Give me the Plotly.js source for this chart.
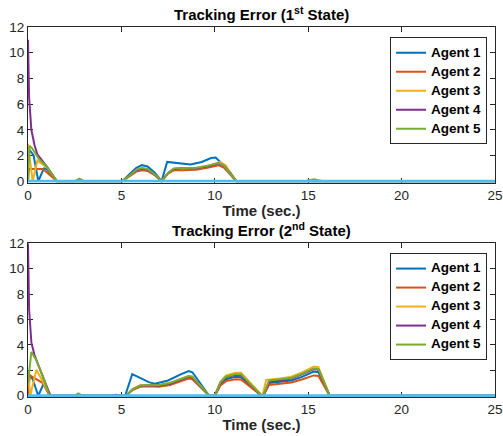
<!DOCTYPE html>
<html>
<head>
<meta charset="utf-8">
<script src="https://cdn.plot.ly/plotly-3.0.1.min.js"></script>
<style>html,body{margin:0;padding:0;background:#fff;}#chart{width:503px;height:436px;}</style>
</head>
<body>
<div id="chart"></div>
<script>
// ---------- data ----------
const agentNames = ['Agent 1', 'Agent 2', 'Agent 3', 'Agent 4', 'Agent 5'];
const xTicks = [0, 5, 10, 15, 20, 25];
const yTicks = [0, 2, 4, 6, 8, 10, 12];
const titleTop = 'Tracking Error (1<sup>st</sup> State)';
const titleBottom = 'Tracking Error (2<sup>nd</sup> State)';
const xLabel = 'Time (sec.)';

// 1st state
const t1_a1 = [0, 0.05, 0.3, 0.55, 0.85, 1.0, 1.55, 5.05, 5.5, 5.8, 6.1, 6.4, 6.8, 7.15, 7.45, 7.8, 8.3, 8.7, 9.3, 9.8, 10.05, 10.4, 10.8, 11.15, 25];
const y1_a1 = [2.4, 2.5, 2.0, 0, 1.0, 0.95, 0, 0, 0.65, 1.05, 1.25, 1.15, 0.65, 0, 1.5, 1.45, 1.35, 1.3, 1.5, 1.8, 1.85, 1.35, 0.75, 0, 0];
const t1_a2 = [0, 0.05, 0.8, 1.55, 2.5, 2.75, 3.0, 5.05, 5.5, 5.8, 6.1, 6.4, 6.8, 7.15, 7.5, 7.8, 8.3, 9.0, 9.6, 10.2, 10.5, 10.8, 11.15, 25];
const y1_a2 = [0, 0.95, 0.95, 0, 0, 0.12, 0, 0, 0.45, 0.75, 0.85, 0.8, 0.45, 0, 0.6, 0.85, 0.85, 0.9, 1.05, 1.25, 1.05, 0.6, 0, 0];
const t1_a3 = [0, 0.25, 0.5, 1.0, 1.55, 5.05, 5.5, 5.8, 6.1, 6.4, 6.8, 7.15, 7.5, 7.8, 8.3, 9.0, 9.6, 10.3, 10.6, 10.85, 11.15, 25];
const y1_a3 = [2.9, 0, 1.6, 1.1, 0, 0, 0.5, 0.85, 0.95, 0.9, 0.5, 0, 0.65, 0.95, 1.0, 1.0, 1.15, 1.5, 1.2, 0.6, 0, 0];
const t1_a4 = [0, 0.06, 0.18, 0.35, 0.5, 1.0, 1.55, 3.3, 3.6, 3.9, 5.05, 5.5, 5.8, 6.1, 6.4, 6.8, 7.15, 7.5, 7.8, 8.3, 9.0, 9.6, 10.2, 10.5, 10.8, 11.15, 25];
const y1_a4 = [11, 6.5, 4.0, 2.8, 2.1, 1.15, 0, 0, 0.05, 0, 0, 0.5, 0.85, 0.95, 0.9, 0.5, 0, 0.65, 0.95, 1.0, 1.0, 1.15, 1.4, 1.2, 0.65, 0, 0];
const t1_a5 = [0, 0.08, 0.2, 0.6, 1.0, 1.55, 2.5, 2.75, 3.0, 5.05, 5.5, 5.8, 6.1, 6.4, 6.8, 7.15, 7.5, 7.8, 8.3, 9.0, 9.6, 10.2, 10.5, 10.8, 11.15, 14.8, 15.3, 15.8, 25];
const y1_a5 = [0, 2.75, 2.6, 1.7, 1.15, 0, 0, 0.2, 0, 0, 0.5, 0.9, 1.02, 0.95, 0.52, 0, 0.65, 1.0, 1.02, 1.05, 1.2, 1.42, 1.2, 0.65, 0, 0, 0.15, 0, 0];

// 2nd state
const t2_a1 = [0, 0.05, 0.25, 0.55, 0.85, 1.2, 5.2, 5.58, 6.0, 6.5, 6.8, 7.5, 8.2, 8.6, 8.8, 9.7, 10.0, 10.3, 10.6, 11.1, 11.4, 12.5, 12.6, 12.9, 13.5, 14.1, 14.7, 15.3, 15.55, 16.15, 25];
const y2_a1 = [1.0, 1.7, 1.3, 0, 1.0, 0, 0, 1.7, 1.4, 1.05, 0.95, 1.2, 1.7, 1.95, 1.85, 0, 0, 0.9, 1.3, 1.5, 1.45, 0, 0, 1.0, 1.1, 1.2, 1.5, 1.9, 1.85, 0, 0];
const t2_a2 = [0, 0.1, 0.8, 1.15, 2.5, 2.7, 2.9, 5.25, 5.6, 6.0, 6.5, 7.0, 7.6, 8.2, 8.6, 8.8, 9.7, 10.0, 10.3, 10.6, 11.1, 11.4, 12.5, 12.6, 12.9, 13.5, 14.1, 14.7, 15.3, 15.55, 16.15, 25];
const y2_a2 = [0, 1.6, 1.0, 0, 0, 0.15, 0, 0, 0.45, 0.7, 0.75, 0.7, 0.85, 1.15, 1.35, 1.3, 0, 0, 0.8, 1.15, 1.3, 1.28, 0, 0, 0.85, 0.95, 1.05, 1.3, 1.6, 1.55, 0, 0];
const t2_a3 = [0, 0.12, 0.45, 1.2, 5.25, 5.6, 6.0, 6.5, 7.0, 7.6, 8.2, 8.6, 8.8, 9.7, 10.0, 10.3, 10.6, 11.1, 11.4, 12.5, 12.55, 12.75, 13.5, 14.1, 14.7, 15.3, 15.55, 16.15, 25];
const y2_a3 = [1.9, 0, 2.05, 0, 0, 0.5, 0.8, 0.85, 0.85, 1.0, 1.35, 1.55, 1.5, 0, 0, 1.1, 1.6, 1.8, 1.8, 0, 0, 1.25, 1.35, 1.5, 1.85, 2.3, 2.25, 0, 0];
const t2_a4 = [0, 0.06, 0.18, 0.35, 0.5, 0.8, 1.2, 4.4, 4.7, 5.0, 5.25, 5.6, 6.0, 6.5, 7.0, 7.6, 8.2, 8.6, 8.8, 9.7, 10.0, 10.3, 10.6, 11.1, 11.4, 12.5, 12.6, 12.9, 13.5, 14.1, 14.7, 15.3, 15.55, 16.15, 25];
const y2_a4 = [12, 6.8, 4.2, 3.2, 2.6, 1.5, 0, 0, 0.08, 0, 0, 0.5, 0.78, 0.8, 0.8, 0.95, 1.3, 1.5, 1.45, 0, 0, 1.0, 1.45, 1.65, 1.62, 0, 0, 1.1, 1.2, 1.35, 1.7, 2.1, 2.05, 0, 0];
const t2_a5 = [0, 0.18, 0.45, 0.8, 1.15, 2.5, 2.7, 2.9, 5.25, 5.6, 6.0, 6.5, 7.0, 7.6, 8.2, 8.6, 8.8, 9.7, 10.0, 10.3, 10.6, 11.1, 11.4, 12.5, 12.6, 12.9, 13.5, 14.1, 14.7, 15.3, 15.55, 16.15, 20.6, 20.8, 21.0, 25];
const y2_a5 = [1.0, 3.45, 2.8, 1.5, 0, 0, 0.18, 0, 0, 0.5, 0.8, 0.82, 0.85, 1.0, 1.35, 1.55, 1.5, 0, 0, 1.05, 1.5, 1.7, 1.7, 0, 0, 1.2, 1.3, 1.4, 1.75, 2.15, 2.1, 0, 0, 0.06, 0, 0];

// reference (zero) line
const t_ref = [0, 25];
const y_ref = [0, 0];

// ---------- styles ----------
const colors = ['#0072BD', '#D95319', '#EDB120', '#7E2F8E', '#77AC30'];
const refColor = '#4DBEEE';
const FONT = 'Liberation Sans, Arial, Helvetica, sans-serif';
const AX = '#262626';

const state1 = [[t1_a1, y1_a1], [t1_a2, y1_a2], [t1_a3, y1_a3], [t1_a4, y1_a4], [t1_a5, y1_a5]];
const state2 = [[t2_a1, y2_a1], [t2_a2, y2_a2], [t2_a3, y2_a3], [t2_a4, y2_a4], [t2_a5, y2_a5]];

const traces = [];
function addState(series, xa, ya, legendId) {
  series.forEach((s, i) => {
    traces.push({
      x: s[0], y: s[1], xaxis: xa, yaxis: ya, type: 'scatter', mode: 'lines',
      name: '<span style="font-size:13.5px">' + agentNames[i] + '</span>', legend: legendId,
      line: {color: colors[i], width: 2}
    });
  });
  traces.push({
    x: t_ref, y: y_ref, xaxis: xa, yaxis: ya, type: 'scatter', mode: 'lines',
    showlegend: false, legend: legendId, hoverinfo: 'skip',
    line: {color: refColor, width: 3}
  });
}
addState(state1, 'x', 'y', 'legend');
addState(state2, 'x2', 'y2', 'legend2');

function xAxis(anchor) {
  return {
    anchor: anchor, domain: [0, 1], range: [0, 25], tickvals: xTicks,
    showline: true, linecolor: AX, linewidth: 1, mirror: 'ticks',
    ticks: 'inside', ticklen: 5, tickcolor: AX, showgrid: false, zeroline: false,
    ticklabeloverflow: 'allow',
    tickfont: {family: FONT, size: 13.5, color: AX},
    title: {text: xLabel, font: {family: FONT, size: 15, color: AX, weight: 'bold'}, standoff: 3},
    layer: 'below traces'
  };
}
function yAxis(anchor, domain) {
  return {
    anchor: anchor, domain: domain, range: [-0.1, 12], tickvals: yTicks,
    showline: true, linecolor: AX, linewidth: 1, mirror: 'ticks',
    ticks: 'inside', ticklen: 5, tickcolor: AX, showgrid: false, zeroline: false,
    ticklabeloverflow: 'allow',
    tickfont: {family: FONT, size: 13.5, color: AX},
    layer: 'below traces'
  };
}
const legendStyle = (y) => ({
  x: 0.983, xanchor: 'right', y: y, yanchor: 'top',
  bgcolor: '#ffffff', bordercolor: AX, borderwidth: 1,
  font: {family: FONT, size: 10, color: '#000', weight: 'bold'},
  tracegroupgap: 0
});

const layout = {
  width: 503, height: 436, autosize: false,
  margin: {l: 28, r: 8, t: 27, b: 39},
  paper_bgcolor: '#fff', plot_bgcolor: '#fff',
  font: {family: FONT, color: AX},
  showlegend: true,
  xaxis: xAxis('y'),
  yaxis: yAxis('x', [0.5797, 1]),
  xaxis2: xAxis('y2'),
  yaxis2: yAxis('x2', [0, 0.4154]),
  legend: legendStyle(0.972),
  legend2: legendStyle(0.389),
  annotations: [
    {text: titleTop, xref: 'paper', yref: 'paper', x: 0.5, y: 1.0378, xanchor: 'center', yanchor: 'middle',
     showarrow: false, font: {family: FONT, size: 15, color: '#000', weight: 'bold'}},
    {text: titleBottom, xref: 'paper', yref: 'paper', x: 0.5, y: 0.4514, xanchor: 'center', yanchor: 'middle',
     showarrow: false, font: {family: FONT, size: 15, color: '#000', weight: 'bold'}}
  ]
};

Plotly.newPlot('chart', traces, layout, {displayModeBar: false, staticPlot: true});
</script>
</body>
</html>
